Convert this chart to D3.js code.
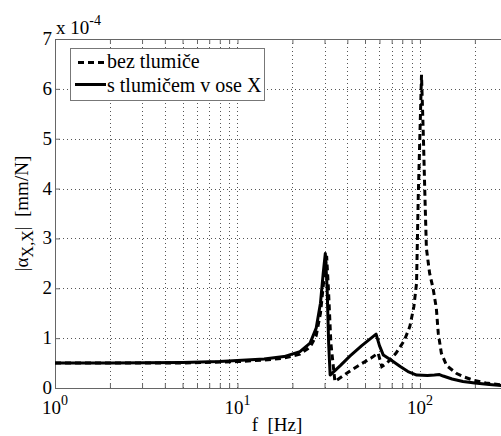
<!DOCTYPE html>
<html>
<head>
<meta charset="utf-8">
<script src="https://cdn.jsdelivr.net/npm/d3@7"></script>
<style>
    body { margin: 0; background: #fff; }
</style>
</head>
<body>
<div id="chart"></div>
<script>

// frequency response data, values in units of 1e-4 mm/N
var freqDamped = [1, 2, 5, 8, 10, 14, 18, 22, 25, 27, 28.5, 29.5, 30.3, 31, 31.6, 32.2, 36.6, 41.3, 48, 54, 57.5, 60, 63, 70, 78, 86, 96, 110, 120, 128, 134, 150, 172, 200, 240, 300];
var valDamped = [0.5, 0.5, 0.51, 0.53, 0.55, 0.58, 0.63, 0.73, 0.9, 1.2, 1.7, 2.3, 2.7, 2.0, 0.9, 0.26, 0.45, 0.64, 0.85, 1.0, 1.08, 0.85, 0.66, 0.55, 0.43, 0.33, 0.26, 0.25, 0.26, 0.27, 0.24, 0.18, 0.13, 0.1, 0.07, 0.04];

var freqPlain = [1, 5, 10, 14, 18, 22, 25, 27, 28.5, 29.8, 30.8, 31.5, 32.5, 34.2, 41, 47, 54, 59, 61.8, 66, 74, 82, 88, 92.6, 95.8, 97.9, 102, 104.5, 106.5, 108.5, 113, 118, 123, 126, 131, 140, 159, 175, 195, 230, 300];
var valPlain = [0.5, 0.5, 0.53, 0.56, 0.6, 0.68, 0.82, 1.05, 1.5, 2.2, 2.65, 2.0, 0.9, 0.13, 0.33, 0.47, 0.6, 0.7, 0.43, 0.5, 0.7, 0.95, 1.23, 1.63, 2.1, 3.84, 6.28, 5.0, 3.84, 2.8, 2.3, 2.0, 1.6, 1.1, 0.7, 0.45, 0.29, 0.22, 0.16, 0.1, 0.05];

var yTicks = [0, 1, 2, 3, 4, 5, 6, 7];
var xMajor = [1, 10, 100];
var xMinor = [2, 3, 4, 5, 6, 7, 8, 9, 20, 30, 40, 50, 60, 70, 80, 90, 200, 300];
var legendLabels = ["bez tlumiče", "s tlumičem v ose X"];

(function() {

    var w = 501, h = 436;
    var padL = 55, padR = 507, padT = 39, padB = 388;
    var serif = "Liberation Serif";

    var svg = d3.select("#chart").append("svg")
        .attr("width", w)
        .attr("height", h);

    var x = d3.scaleLog().domain([1, 300]).range([padL, padR]);
    var y = d3.scaleLinear().domain([0, 7]).range([padB, padT]);

    svg.append("defs").append("clipPath")
        .attr("id", "plot-clip")
        .append("rect")
        .attr("x", padL)
        .attr("y", padT)
        .attr("width", padR - padL)
        .attr("height", padB - padT);

    // grid
    var grid = svg.append("g")
        .attr("stroke", "#555")
        .attr("stroke-width", 1)
        .attr("stroke-dasharray", "1,3");

    grid.selectAll("line.gx")
        .data(xMinor.concat(xMajor.slice(1)))
        .enter()
        .append("line")
        .attr("class", "gx")
        .attr("x1", function(d) { return Math.round(x(d)) + 0.5; })
        .attr("x2", function(d) { return Math.round(x(d)) + 0.5; })
        .attr("y1", padT)
        .attr("y2", padB);

    grid.selectAll("line.gy")
        .data(yTicks.slice(1, -1))
        .enter()
        .append("line")
        .attr("class", "gy")
        .attr("x1", padL)
        .attr("x2", padR)
        .attr("y1", function(d) { return Math.round(y(d)) + 0.5; })
        .attr("y2", function(d) { return Math.round(y(d)) + 0.5; });

    // axes, matlab style box with inward ticks
    var xTickVals = xMajor.concat(xMinor);

    svg.append("g")
        .attr("transform", "translate(0," + padB + ")")
        .call(d3.axisBottom(x).tickValues(xTickVals).tickSizeInner(-5).tickSizeOuter(0).tickFormat(""));

    svg.append("g")
        .attr("transform", "translate(0," + padT + ")")
        .call(d3.axisTop(x).tickValues(xTickVals).tickSizeInner(-5).tickSizeOuter(0).tickFormat(""));

    svg.append("g")
        .attr("transform", "translate(" + padL + ",0)")
        .call(d3.axisLeft(y).tickValues(yTicks).tickSizeInner(-5).tickSizeOuter(0).tickFormat(""));

    svg.selectAll(".domain, .tick line").attr("stroke", "#666");

    // all texts go in one group so the font is set once
    var labels = svg.append("g")
        .attr("font-family", serif)
        .attr("fill", "#000");

    labels.selectAll("text.ylab")
        .data(yTicks)
        .enter()
        .append("text")
        .attr("class", "ylab")
        .attr("x", padL - 3)
        .attr("y", function(d) { return y(d) + 6; })
        .attr("text-anchor", "end")
        .attr("font-family", serif)
        .attr("font-size", 19)
        .text(function(d) { return d; });

    var xl = labels.selectAll("text.xlab")
        .data(xMajor)
        .enter()
        .append("text")
        .attr("class", "xlab")
        .attr("x", function(d) { return x(d); })
        .attr("y", 414)
        .attr("text-anchor", "middle")
        .attr("font-family", serif)
        .attr("font-size", 19);
    xl.append("tspan").text("10");
    xl.append("tspan")
        .attr("dy", -9)
        .attr("font-size", 14)
        .text(function(d) { return Math.round(Math.log10(d)); });

    var mult = labels.append("text")
        .attr("x", padL + 1)
        .attr("y", 34)
        .attr("font-family", serif)
        .attr("font-size", 19);
    mult.append("tspan").text("x 10");
    mult.append("tspan")
        .attr("dy", -9)
        .attr("font-size", 14)
        .text("-4");

    labels.append("text")
        .attr("x", 277)
        .attr("y", 431)
        .attr("text-anchor", "middle")
        .attr("font-family", serif)
        .attr("font-size", 19)
        .attr("xml:space", "preserve")
        .text("f  [Hz]");

    var ylab = labels.append("text")
        .attr("transform", "translate(28," + ((padT + padB) / 2) + ") rotate(-90)")
        .attr("text-anchor", "middle")
        .attr("font-family", serif)
        .attr("font-size", 19)
        .attr("xml:space", "preserve");
    ylab.append("tspan").text("|α");
    ylab.append("tspan")
        .attr("dy", 5)
        .attr("font-size", 16)
        .text("X,X");
    ylab.append("tspan")
        .attr("dy", -5)
        .text("|  [mm/N]");

    // curves
    var line = d3.line()
        .x(function(d) { return x(d[0]); })
        .y(function(d) { return y(d[1]); });

    var plot = svg.append("g").attr("clip-path", "url(#plot-clip)");

    plot.append("path")
        .datum(d3.zip(freqDamped, valDamped))
        .attr("d", line)
        .attr("fill", "none")
        .attr("stroke", "#000")
        .attr("stroke-width", 3)
        .attr("stroke-linejoin", "round");

    plot.append("path")
        .datum(d3.zip(freqPlain, valPlain))
        .attr("d", line)
        .attr("fill", "none")
        .attr("stroke", "#000")
        .attr("stroke-width", 3)
        .attr("stroke-dasharray", "6,4");

    // legend
    var legend = svg.append("g");

    legend.append("rect")
        .attr("x", 70.5)
        .attr("y", 48.5)
        .attr("width", 194)
        .attr("height", 52)
        .attr("fill", "#fff")
        .attr("stroke", "#777");

    legend.append("line")
        .attr("x1", 78).attr("x2", 106)
        .attr("y1", 62.5).attr("y2", 62.5)
        .attr("stroke", "#000")
        .attr("stroke-width", 3)
        .attr("stroke-dasharray", "6,4");

    legend.append("line")
        .attr("x1", 75).attr("x2", 106)
        .attr("y1", 84.5).attr("y2", 84.5)
        .attr("stroke", "#000")
        .attr("stroke-width", 3);

    legend.selectAll("text")
        .data(legendLabels)
        .enter()
        .append("text")
        .attr("x", 107)
        .attr("y", function(d, i) { return 68 + i * 24; })
        .attr("font-family", serif)
        .attr("font-size", 20)
        .text(function(d) { return d; });

})();

</script>
</body>
</html>
